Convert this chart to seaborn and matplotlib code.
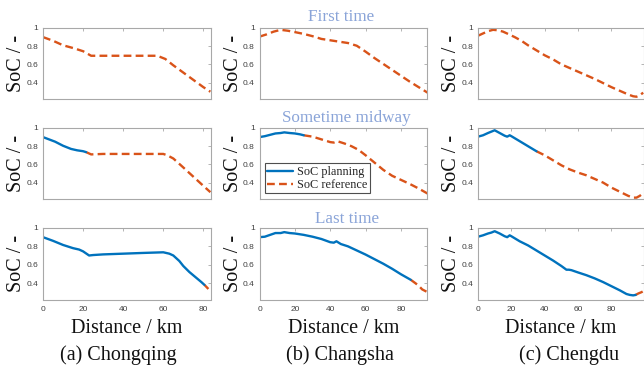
import matplotlib
matplotlib.use("Agg")
import matplotlib.pyplot as plt
import seaborn as sns
from matplotlib.ticker import FuncFormatter

# ---- data ----
# Chongqing
cq_ref1_x = [0, 5, 10, 15, 20, 24, 30, 40, 50, 57, 61, 65, 70, 75, 80, 83.5]
cq_ref1_y = [0.90, 0.86, 0.81, 0.78, 0.745, 0.695, 0.695, 0.695, 0.695, 0.695, 0.66, 0.59, 0.51, 0.43, 0.35, 0.30]
cq_plan2_x = [0, 3, 6, 10, 14, 17, 20, 21.5]
cq_plan2_y = [0.90, 0.875, 0.85, 0.805, 0.77, 0.755, 0.745, 0.735]
cq_ref2_x = [21.5, 24, 30, 40, 50, 60, 62, 65, 70, 75, 80, 83.5]
cq_ref2_y = [0.735, 0.71, 0.715, 0.715, 0.715, 0.715, 0.70, 0.665, 0.566, 0.465, 0.364, 0.295]
cq_plan3_x = [0, 5, 10, 15, 18, 20, 23, 25, 30, 40, 50, 60, 63, 65, 68, 70, 73, 76, 79, 80.5]
cq_plan3_y = [0.90, 0.86, 0.815, 0.78, 0.765, 0.745, 0.70, 0.705, 0.712, 0.72, 0.728, 0.735, 0.72, 0.70, 0.64, 0.585, 0.52, 0.465, 0.41, 0.38]
cq_ref3_x = [80.5, 82.5]
cq_ref3_y = [0.38, 0.335]

# Changsha
cs_ref1_x = [0, 4, 8, 12, 16, 20, 25, 30, 35, 40, 45, 50, 55, 60, 65, 70, 75, 80, 85, 90, 95]
cs_ref1_y = [0.905, 0.93, 0.96, 0.98, 0.97, 0.955, 0.935, 0.91, 0.88, 0.865, 0.85, 0.835, 0.805, 0.74, 0.67, 0.605, 0.54, 0.475, 0.41, 0.35, 0.29]
cs_plan2_x = [0, 3, 6, 9, 12, 14, 17, 20, 23, 25]
cs_plan2_y = [0.90, 0.91, 0.925, 0.94, 0.945, 0.952, 0.945, 0.94, 0.93, 0.92]
cs_ref2_x = [25, 30, 35, 40, 42, 44, 48, 52, 56, 60, 65, 70, 75, 80, 85, 90, 95]
cs_ref2_y = [0.92, 0.905, 0.875, 0.845, 0.84, 0.855, 0.83, 0.80, 0.76, 0.70, 0.62, 0.54, 0.475, 0.43, 0.385, 0.335, 0.28]
cs_plan3_x = [0, 3, 6, 9, 12, 14, 17, 20, 25, 30, 35, 40, 42, 43.5, 46, 50, 55, 60, 65, 70, 75, 80, 85.5]
cs_plan3_y = [0.90, 0.905, 0.925, 0.945, 0.945, 0.955, 0.945, 0.94, 0.925, 0.905, 0.88, 0.845, 0.84, 0.855, 0.825, 0.80, 0.755, 0.71, 0.66, 0.61, 0.555, 0.495, 0.435]
cs_ref3_x = [85.5, 88, 90, 92, 95]
cs_ref3_y = [0.435, 0.40, 0.37, 0.33, 0.30]

# Chengdu
cd_ref1_x = [0, 3, 6, 9, 12, 15, 18, 22, 26, 30, 35, 40, 45, 50, 55, 60, 65, 70, 75, 80, 85, 90, 93, 95, 97, 99]
cd_ref1_y = [0.915, 0.94, 0.965, 0.98, 0.975, 0.96, 0.935, 0.90, 0.86, 0.81, 0.755, 0.70, 0.655, 0.60, 0.56, 0.52, 0.48, 0.44, 0.395, 0.35, 0.31, 0.27, 0.25, 0.245, 0.26, 0.29]
cd_plan2_x = [0, 3, 6, 8, 10, 13, 16, 17.5, 19, 20, 25, 30, 35]
cd_plan2_y = [0.905, 0.92, 0.945, 0.96, 0.975, 0.945, 0.915, 0.905, 0.92, 0.91, 0.855, 0.80, 0.745]
cd_ref2_x = [35, 40, 45, 50, 55, 60, 65, 70, 75, 80, 85, 90, 93, 95, 97, 99]
cd_ref2_y = [0.745, 0.70, 0.645, 0.59, 0.545, 0.51, 0.48, 0.44, 0.40, 0.345, 0.30, 0.255, 0.235, 0.235, 0.255, 0.285]
cd_plan3_x = [0, 3, 6, 8, 10, 13, 16, 17.5, 19, 20, 25, 30, 35, 40, 45, 50, 53, 54.5, 56, 60, 65, 70, 75, 80, 85, 89, 91, 93, 94.5]
cd_plan3_y = [0.905, 0.92, 0.94, 0.95, 0.965, 0.94, 0.91, 0.90, 0.92, 0.91, 0.855, 0.81, 0.755, 0.70, 0.645, 0.585, 0.545, 0.545, 0.54, 0.515, 0.485, 0.45, 0.41, 0.365, 0.32, 0.28, 0.27, 0.265, 0.27]
cd_ref3_x = [94.5, 96, 98, 99.5]
cd_ref3_y = [0.27, 0.285, 0.30, 0.315]

x_limits = [83.8, 94.7, 99.5]
city_labels = ["(a) Chongqing", "(b) Changsha", "(c) Chengdu"]
stage_titles = ["First time", "Sometime midway", "Last time"]

# [column][row] -> (planning, reference)
panels = [
    [(None, (cq_ref1_x, cq_ref1_y)), ((cq_plan2_x, cq_plan2_y), (cq_ref2_x, cq_ref2_y)), ((cq_plan3_x, cq_plan3_y), (cq_ref3_x, cq_ref3_y))],
    [(None, (cs_ref1_x, cs_ref1_y)), ((cs_plan2_x, cs_plan2_y), (cs_ref2_x, cs_ref2_y)), ((cs_plan3_x, cs_plan3_y), (cs_ref3_x, cs_ref3_y))],
    [(None, (cd_ref1_x, cd_ref1_y)), ((cd_plan2_x, cd_plan2_y), (cd_ref2_x, cd_ref2_y)), ((cd_plan3_x, cd_plan3_y), (cd_ref3_x, cd_ref3_y))],
]

BLUE = "#0072BD"
ORANGE = "#D95319"
GRID = "#a8a8a8"
SERIF = "Liberation Serif"

sns.set_style("white")
plt.rcParams["font.family"] = ["Liberation Sans", "DejaVu Sans"]

fig = plt.figure(figsize=(6.44, 3.70), dpi=100)
W, H = 644.0, 370.0
col_left = [43, 259.5, 478]
col_right = [211, 427, 644]
row_top = [28, 128, 228]
row_bot = [99, 199, 299.5]

for c in range(3):
    for r in range(3):
        ax = fig.add_axes([col_left[c] / W, 1 - row_bot[r] / H,
                           (col_right[c] - col_left[c]) / W, (row_bot[r] - row_top[r]) / H])
        plan, ref = panels[c][r]
        if ref is not None:
            sns.lineplot(x=ref[0], y=ref[1], ax=ax, color=ORANGE, linewidth=1.7,
                         linestyle=(0, (3.3, 1.8)), sort=False, label="SoC reference")
        if plan is not None:
            sns.lineplot(x=plan[0], y=plan[1], ax=ax, color=BLUE, linewidth=1.7,
                         sort=False, label="SoC planning")
        ax.set_xlim(0, x_limits[c])
        ax.set_ylim(0.22, 1.0)
        ax.set_xticks([0, 20, 40, 60, 80])
        ax.set_yticks([0.4, 0.6, 0.8, 1.0])
        ax.yaxis.set_major_formatter(FuncFormatter(lambda v, p: "1" if v == 1 else f"{v:.1f}"))
        ax.tick_params(direction="in", length=2.5, width=0.6, color=GRID,
                       labelsize=6.0, labelcolor="#404040", top=True, right=True, pad=3.5)
        ax.tick_params(axis="x", pad=5)
        for s in ax.spines.values():
            s.set_color(GRID)
            s.set_linewidth(0.8)
        ax.set_ylabel("SoC / -", fontfamily=SERIF, fontsize=14.5, color="#111111")
        ax.yaxis.set_label_coords(-0.1, 0.5)
        if r < 2:
            ax.set_xticklabels([])
            ax.set_xlabel("")
        else:
            ax.set_xlabel("Distance / km", fontfamily=SERIF, fontsize=14.5, color="#111111", labelpad=4)
        leg = ax.get_legend()
        if leg is not None:
            leg.remove()
        if c == 1 and r == 1:
            handles, labels = ax.get_legend_handles_labels()
            order = [labels.index("SoC planning"), labels.index("SoC reference")]
            lg = ax.legend([handles[i] for i in order], [labels[i] for i in order],
                           loc="lower left", prop={"family": SERIF, "size": 8.8},
                           frameon=True, fancybox=False, edgecolor="#222222",
                           handlelength=2.1, borderpad=0.2, labelspacing=0.1,
                           handletextpad=0.35, borderaxespad=0.45)
            lg.get_frame().set_linewidth(0.8)

title_pos = [(341, 17), (346, 118), (347, 219)]
for t, (tx, ty) in zip(stage_titles, title_pos):
    fig.text(tx / W, 1 - ty / H, t, fontfamily=SERIF, fontsize=12.3, color="#8aa4d8",
             ha="center", va="center")

city_x = [118, 340, 569]
for t, cx in zip(city_labels, city_x):
    fig.text(cx / W, 1 - 355 / H, t, fontfamily=SERIF, fontsize=14.5, color="#111111",
             ha="center", va="center")

fig.savefig("out.png", dpi=100)
